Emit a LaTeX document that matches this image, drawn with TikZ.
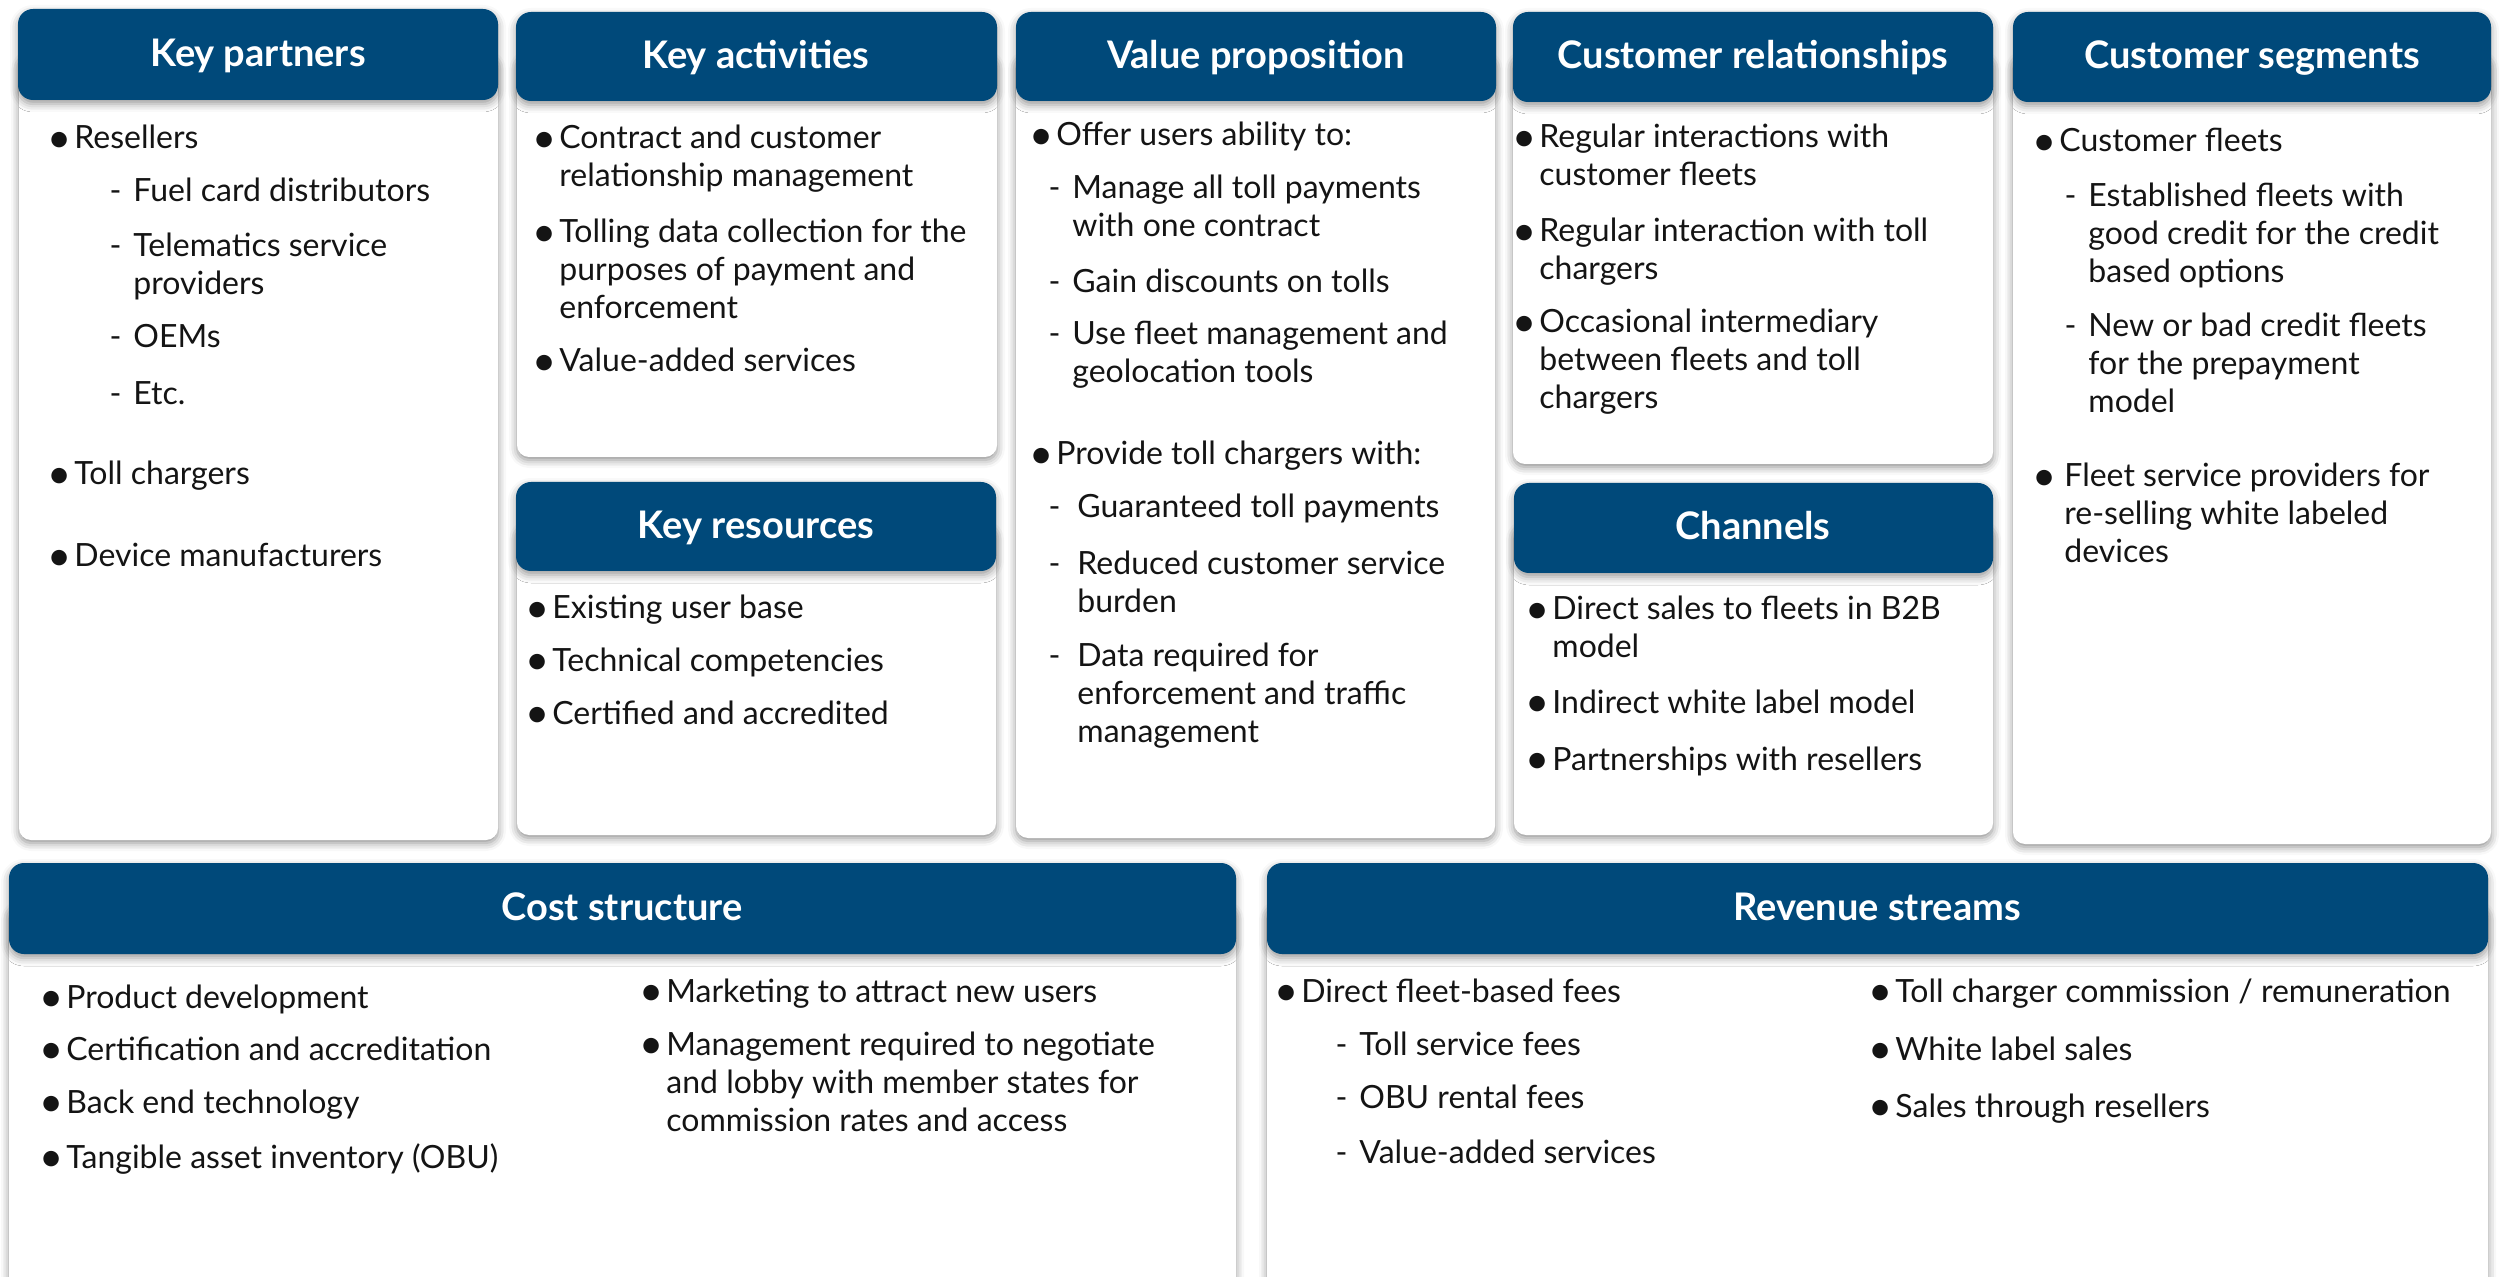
\documentclass[tikz,border=0pt]{standalone}
\usepackage{fontspec}
\setmainfont{Lato}
\usepackage{graphicx}
\usepackage{tikz}
\usetikzlibrary{shadows.blur}
\definecolor{hdrblue}{RGB}{0, 73, 122}
\definecolor{txtblack}{RGB}{20, 20, 20}
\newcommand{\kdot}{\raisebox{-1.6pt}{\scalebox{1.3}{\textbullet}}}
\newcommand{\kbul}{\llap{\kdot\hskip1.5pt}}
\newcommand{\kdash}{\llap{-\hskip6pt}}
\newcommand{\klines}[1]{\begin{tabular}[t]{@{}l@{}}#1\end{tabular}}
\begin{document}
\begin{tikzpicture}[x=0.5pt,y=-0.5pt,
    body/.style={fill=white, rounded corners=6pt, blur shadow={shadow xshift=0pt, shadow yshift=-1.5pt, shadow blur radius=4pt, shadow opacity=45}},
    head/.style={fill=hdrblue, rounded corners=7.5pt, blur shadow={shadow xshift=0pt, shadow yshift=-2pt, shadow blur radius=4pt, shadow opacity=40}},
    title/.style={anchor=base, inner sep=0pt, text=white, font=\fontsize{19pt}{22pt}\selectfont\bfseries},
    item/.style={anchor=base west, inner sep=0pt, text=txtblack, font=\fontsize{16pt}{19pt}\selectfont}]
\useasboundingbox (0,0) rectangle (2504,1277);
\clip (0,0) rectangle (2504,1277);

% boxes
\path[body] (19,55) rectangle (498,840);
\path[head] (18,9) rectangle (498,100);
\path[body] (517,55) rectangle (997,457);
\path[head] (516,12) rectangle (997,101);
\path[body] (517,525) rectangle (996,835);
\path[head] (516,482) rectangle (996,571);
\path[body] (1016,55) rectangle (1495,838);
\path[head] (1016,12) rectangle (1496,101);
\path[body] (1513,55) rectangle (1993,464);
\path[head] (1513,12) rectangle (1993,102);
\path[body] (1514,525) rectangle (1993,835);
\path[head] (1514,483) rectangle (1993,573);
\path[body] (2013,55) rectangle (2491,844);
\path[head] (2013,12) rectangle (2491,102);
\path[body] (9,905) rectangle (1236,1320);
\path[head] (9,863) rectangle (1236,954);
\path[body] (1267,905) rectangle (2488,1320);
\path[head] (1267,863) rectangle (2488,954);

% titles
\node[title] (kp) at (258,67) {Key partners};
\node[title] (ka) at (756,68.5) {Key activities};
\node[title] (kr) at (756,538.5) {Key resources};
\node[title] (vp) at (1256,68.5) {Value proposition};
\node[title] (cr) at (1753,69) {Customer relationships};
\node[title] (ch) at (1753,540) {Channels};
\node[title] (cs) at (2252,69) {Customer segments};
\node[title] (co) at (622,920.5) {Cost structure};
\node[title] (rs) at (1877,920.5) {Revenue streams};

% key partners
\node[item] (kp1) at (74,149) {\kbul Resellers};
\node[item] (kp2) at (133,202) {\kdash Fuel card distributors};
\node[item] (kp3) at (133,257) {\kdash\klines{Telematics service\\providers}};
\node[item] (kp4) at (133,348) {\kdash OEMs};
\node[item] (kp5) at (133,405) {\kdash Etc.};
\node[item] (kp6) at (74,485) {\kbul Toll chargers};
\node[item] (kp7) at (74,567) {\kbul Device manufacturers};

% key activities / resources
\node[item] (ka1) at (559,149) {\kbul\klines{Contract and customer\\relationship management}};
\node[item] (ka2) at (559,243) {\kbul\klines{Tolling data collection for the\\purposes of payment and\\enforcement}};
\node[item] (ka3) at (559,372) {\kbul Value-added services};
\node[item] (kr1) at (552,619) {\kbul Existing user base};
\node[item] (kr2) at (552,671) {\kbul Technical competencies};
\node[item] (kr3) at (552,724) {\kbul Certified and accredited};

% value proposition
\node[item] (vp1) at (1056,146) {\kbul Offer users ability to:};
\node[item] (vp2) at (1072,199) {\kdash\klines{Manage all toll payments\\with one contract}};
\node[item] (vp3) at (1072,293) {\kdash Gain discounts on tolls};
\node[item] (vp4) at (1072,345) {\kdash\klines{Use fleet management and\\geolocation tools}};
\node[item] (vp5) at (1056,465) {\kbul Provide toll chargers with:};
\node[item] (vp6) at (1077,518) {\llap{-\hskip8.5pt}Guaranteed toll payments};
\node[item] (vp7) at (1077,575) {\llap{-\hskip8.5pt}\klines{Reduced customer service\\burden}};
\node[item] (vp8) at (1077,667) {\llap{-\hskip8.5pt}\klines{Data required for\\enforcement and traffic\\management}};

% customer relationships / channels
\node[item] (cr1) at (1539,148) {\kbul\klines{Regular interactions with\\customer fleets}};
\node[item] (cr2) at (1539,242) {\kbul\klines{Regular interaction with toll\\chargers}};
\node[item] (cr3) at (1539,333) {\kbul\klines{Occasional intermediary\\between fleets and toll\\chargers}};
\node[item] (ch1) at (1552,620) {\kbul\klines{Direct sales to fleets in B2B\\model}};
\node[item] (ch2) at (1552,713) {\kbul Indirect white label model};
\node[item] (ch3) at (1552,770) {\kbul Partnerships with resellers};

% customer segments
\node[item] (cs1) at (2059,152) {\kbul Customer fleets};
\node[item] (cs2) at (2088,207) {\kdash\klines{Established fleets with\\good credit for the credit\\based options}};
\node[item] (cs3) at (2088,337) {\kdash\klines{New or bad credit fleets\\for the prepayment\\model}};
\node[item] (cs4) at (2064,487) {\llap{\kdot\hskip4pt}\klines{Fleet service providers for\\re-selling white labeled\\devices}};

% cost structure
\node[item] (co1) at (66,1008) {\kbul Product development};
\node[item] (co2) at (66,1060) {\kbul Certification and accreditation};
\node[item] (co3) at (66,1113) {\kbul Back end technology};
\node[item] (co4) at (66,1168) {\kbul Tangible asset inventory (OBU)};
\node[item] (co5) at (666,1002) {\kbul Marketing to attract new users};
\node[item] (co6) at (666,1055) {\kbul\klines{Management required to negotiate\\and lobby with member states for\\commission rates and access}};

% revenue streams
\node[item] (rs1) at (1301,1002) {\kbul Direct fleet-based fees};
\node[item] (rs2) at (1359,1055) {\kdash Toll service fees};
\node[item] (rs3) at (1359,1108) {\kdash OBU rental fees};
\node[item] (rs4) at (1359,1163) {\kdash Value-added services};
\node[item] (rs5) at (1895,1002) {\kbul Toll charger commission / remuneration};
\node[item] (rs6) at (1895,1060) {\kbul White label sales};
\node[item] (rs7) at (1895,1117) {\kbul Sales through resellers};
\end{tikzpicture}
\end{document}
